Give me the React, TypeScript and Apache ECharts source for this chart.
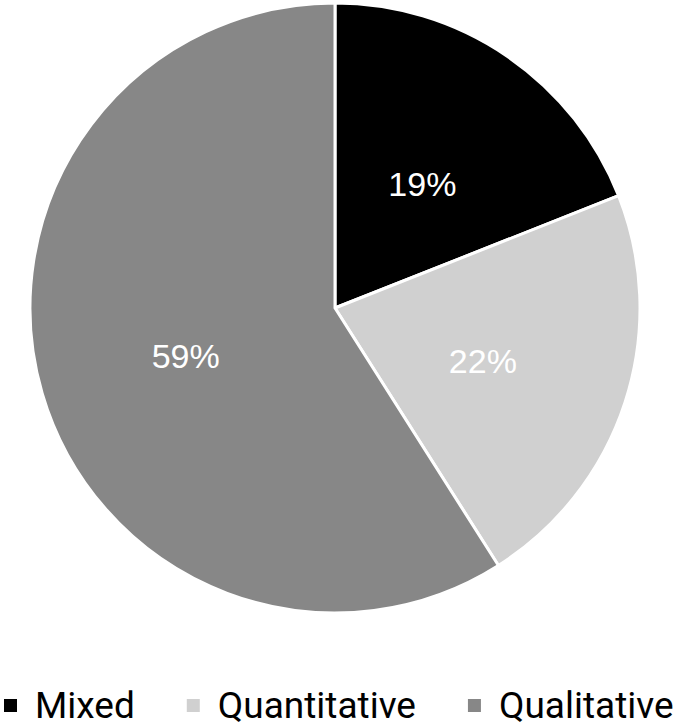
import React, { useEffect, useRef } from "react";
import * as echarts from "echarts";

const categories = ["Mixed", "Quantitative", "Qualitative"];
const values = [19, 22, 59];
const colors = ["#000000", "#d0d0d0", "#878787"];

export default function App() {
  const ref = useRef<HTMLDivElement>(null);
  useEffect(() => {
    if (!ref.current) return;
    const chart = echarts.init(ref.current, null, { renderer: "svg" });
    chart.setOption({
      animation: false,
      backgroundColor: "#ffffff",
      legend: {
        data: categories,
        left: 2,
        top: 687,
        padding: 0,
        orient: "horizontal",
        icon: "rect",
        itemWidth: 15,
        itemHeight: 15,
        itemGap: 50,
        textStyle: {
          fontFamily: "Roboto",
          fontSize: 37,
          color: "#000000",
          padding: [0, 0, 0, 12],
        },
      },
      series: [
        {
          type: "pie",
          center: [335, 308],
          radius: [0, 305],
          startAngle: 90,
          clockwise: true,
          data: categories.map((c, i) => ({
            name: c,
            value: values[i],
            itemStyle: { color: colors[i] },
          })),
          itemStyle: { borderColor: "#ffffff", borderWidth: 3 },
          label: {
            show: true,
            position: "inside",
            formatter: "{c}%",
            color: "#ffffff",
            fontFamily: "Liberation Sans",
            fontSize: 34,
            offset: [0, 5],
          },
          labelLine: { show: false },
          emphasis: { disabled: true },
        },
      ],
    });
    return () => chart.dispose();
  }, []);
  return (
    <div
      ref={ref}
      style={{ position: "fixed", left: 0, top: 0, width: 685, height: 726 }}
    />
  );
}
